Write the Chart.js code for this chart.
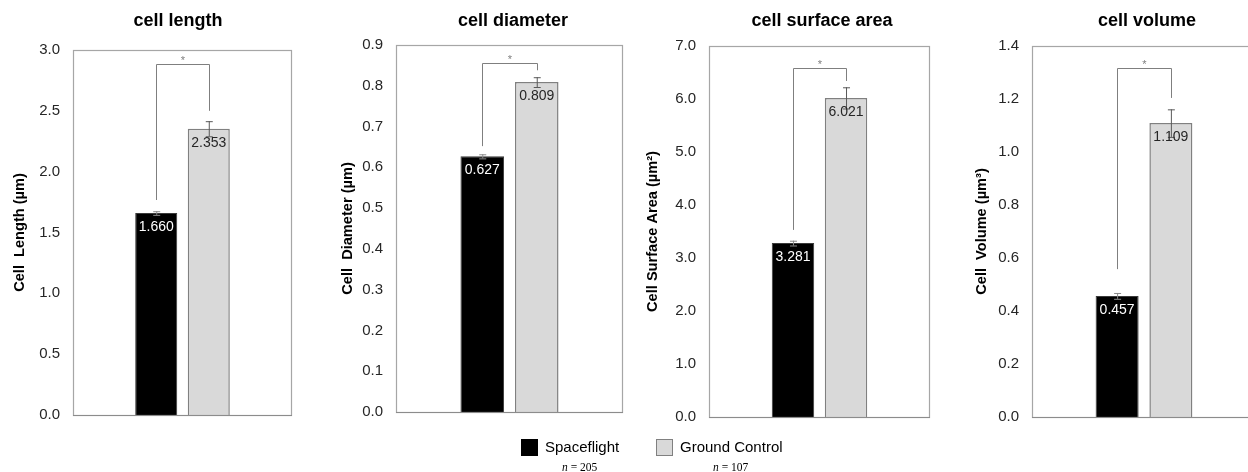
<!DOCTYPE html>
<html>
<head>
<meta charset="utf-8">
<script src="https://cdn.jsdelivr.net/npm/chart.js@4.4.1/dist/chart.umd.min.js"></script>
<style>
  html, body { margin:0; padding:0; width:1248px; height:472px; overflow:hidden; background:#fff; font-family:'Liberation Sans', Arial, sans-serif; }
  canvas { position:absolute; }
  .ttl { position:absolute; top:8px; font-weight:bold; font-size:18px; color:#000; transform:translateX(-50%); white-space:nowrap; line-height:24px; z-index:2; }
  .sw { position:absolute; width:17px; height:17px; box-sizing:border-box; }
  .lt { position:absolute; font-size:15px; color:#000; line-height:18px; white-space:nowrap; }
  .nn { position:absolute; font-family:'Liberation Serif', 'Times New Roman', serif; font-size:11.5px; color:#000; white-space:nowrap; line-height:14px; }
</style>
</head>
<body>
<script>
// ---- data ----
const panelTitles = ['cell length', 'cell diameter', 'cell surface area', 'cell volume'];
const yAxisTitles = ['Cell  Length (µm)', 'Cell  Diameter (µm)', 'Cell Surface Area (µm²)', 'Cell  Volume (µm³)'];
const seriesNames = ['Spaceflight', 'Ground Control'];
const sampleSizes = ['205', '107'];
const spaceflight = [1.660, 0.627, 3.281, 0.457];
const groundControl = [2.353, 0.809, 6.021, 1.109];
const spaceflightErr = [0.015, 0.005, 0.045, 0.011];
const groundControlErr = [0.062, 0.012, 0.2, 0.052];
const bracketTop = [2.885, 0.856, 6.58, 1.317];
const bracketLeftEnd = [1.767, 0.652, 3.53, 0.558];
const bracketRightEnd = [2.5, 0.838, 6.34, 1.204];
const yMax = [3, 0.9, 7, 1.4];
const yStep = [0.5, 0.1, 1, 0.2];
const tickDecimals = [1, 1, 1, 1];

// ---- layout (pixels) ----
const layoutBox = [
  {titleX: 20,  left: 73,   top: 50, bottom: 415, right: 292,  head: 178},
  {titleX: 348, left: 396,  top: 45, bottom: 412, right: 623,  head: 513},
  {titleX: 653, left: 709,  top: 46, bottom: 417, right: 930,  head: 822},
  {titleX: 982, left: 1032, top: 46, bottom: 417, right: 1256, head: 1147}
];
const EDGE = 22; // tick half-height + tick padding reserved by Chart.js above/below the plot

const FONT = "'Liberation Sans', Arial, sans-serif";

const overlay = {
  id: 'overlay',
  afterDatasetsDraw(chart, args, opts) {
    const i = opts.idx;
    const {ctx, chartArea: a} = chart;
    const y = chart.scales.y;
    ctx.save();
    // plot frame
    ctx.strokeStyle = '#a6a6a6';
    ctx.lineWidth = 1.2;
    ctx.strokeRect(a.left + 0.5, a.top + 0.5, a.right - a.left - 1, a.bottom - a.top);
    ctx.strokeStyle = '#8c8c8c';
    ctx.beginPath(); ctx.moveTo(a.left, a.bottom + 0.5); ctx.lineTo(a.right, a.bottom + 0.5); ctx.stroke();

    const b0 = chart.getDatasetMeta(0).data[0];
    const b1 = chart.getDatasetMeta(1).data[0];
    const errs = [spaceflightErr[i], groundControlErr[i]];
    const vals = [spaceflight[i], groundControl[i]];
    [b0, b1].forEach((b, k) => {
      const yt = y.getPixelForValue(vals[k] + errs[k]);
      const yb = y.getPixelForValue(vals[k] - errs[k]);
      ctx.strokeStyle = k === 0 ? '#8a8a8a' : '#595959';
      ctx.lineWidth = 1;
      ctx.beginPath();
      ctx.moveTo(b.x + 0.5, yt); ctx.lineTo(b.x + 0.5, yb);
      ctx.moveTo(b.x - 3, yt + 0.5); ctx.lineTo(b.x + 4, yt + 0.5);
      ctx.moveTo(b.x - 3, yb + 0.5); ctx.lineTo(b.x + 4, yb + 0.5);
      ctx.stroke();
      ctx.fillStyle = k === 0 ? '#ffffff' : '#262626';
      ctx.font = '14px ' + FONT;
      ctx.textAlign = 'center';
      ctx.textBaseline = 'middle';
      ctx.fillText(vals[k].toFixed(3), b.x, b.y + 14);
    });
    // significance bracket
    const yT = Math.round(y.getPixelForValue(bracketTop[i])) + 0.5;
    const yL = y.getPixelForValue(bracketLeftEnd[i]);
    const yR = y.getPixelForValue(bracketRightEnd[i]);
    const xL = Math.round(b0.x) + 0.5, xR = Math.round(b1.x) + 0.5;
    ctx.strokeStyle = '#7f7f7f';
    ctx.lineWidth = 1;
    ctx.beginPath();
    ctx.moveTo(xL, yL); ctx.lineTo(xL, yT); ctx.lineTo(xR, yT); ctx.lineTo(xR, yR);
    ctx.stroke();
    ctx.fillStyle = '#7f7f7f';
    ctx.font = '11px ' + FONT;
    ctx.textAlign = 'center';
    ctx.textBaseline = 'middle';
    ctx.fillText('*', (xL + xR) / 2, yT - 4);
    ctx.restore();
  }
};

panelTitles.forEach((t, i) => {
  const L = layoutBox[i];
  const cLeft = L.titleX - 9;
  const cTop = L.top - EDGE;
  const W = L.right - cLeft + 2;
  const H = L.bottom + EDGE - cTop;
  const cv = document.createElement('canvas');
  cv.width = W; cv.height = H;
  cv.style.left = cLeft + 'px'; cv.style.top = cTop + 'px';
  cv.style.width = W + 'px'; cv.style.height = H + 'px';
  document.body.appendChild(cv);

  const head = document.createElement('div');
  head.className = 'ttl';
  head.style.left = L.head + 'px';
  head.textContent = t;
  document.body.appendChild(head);

  new Chart(cv.getContext('2d'), {
    type: 'bar',
    data: {
      labels: [t],
      datasets: [
        { label: seriesNames[0], data: [spaceflight[i]], backgroundColor: '#000000', borderColor: '#3a3a3a', borderWidth: 1 },
        { label: seriesNames[1], data: [groundControl[i]], backgroundColor: '#d9d9d9', borderColor: '#808080', borderWidth: 1.5 }
      ]
    },
    options: {
      responsive: false,
      animation: false,
      devicePixelRatio: 1,
      layout: { padding: { top: 0, bottom: 0, left: 0, right: 2 } },
      datasets: { bar: { categoryPercentage: 0.48, barPercentage: 0.8 } },
      plugins: { legend: { display: false }, title: { display: false }, tooltip: { enabled: false }, overlay: { idx: i } },
      scales: {
        x: { display: false },
        y: {
          min: 0, max: yMax[i],
          grid: { display: false, drawTicks: false },
          border: { display: false },
          ticks: {
            stepSize: yStep[i], padding: 13, color: '#262626',
            font: { family: FONT, size: 15 },
            callback: v => Number(v).toFixed(tickDecimals[i])
          },
          title: {
            display: true, text: yAxisTitles[i], color: '#000',
            font: { family: FONT, size: 14.6, weight: 'bold' },
            padding: { top: 0, bottom: 0 }
          },
          afterFit: s => { s.width = L.left - cLeft; }
        }
      }
    },
    plugins: [overlay]
  });
});

// ---- legend ----
const legendItems = [
  {sw: 521, text: 545, n: 562, fill: '#000000', border: '#000000'},
  {sw: 656, text: 680, n: 713, fill: '#d9d9d9', border: '#808080'}
];
legendItems.forEach((it, k) => {
  const s = document.createElement('div');
  s.className = 'sw';
  s.style.left = it.sw + 'px'; s.style.top = '439px';
  s.style.background = it.fill; s.style.border = '1.5px solid ' + it.border;
  document.body.appendChild(s);
  const tx = document.createElement('div');
  tx.className = 'lt';
  tx.style.left = it.text + 'px'; tx.style.top = '438px';
  tx.textContent = seriesNames[k];
  document.body.appendChild(tx);
  const n = document.createElement('div');
  n.className = 'nn';
  n.style.left = it.n + 'px'; n.style.top = '460px';
  n.innerHTML = '<i>n</i> = ' + sampleSizes[k];
  document.body.appendChild(n);
});
</script>
</body>
</html>
